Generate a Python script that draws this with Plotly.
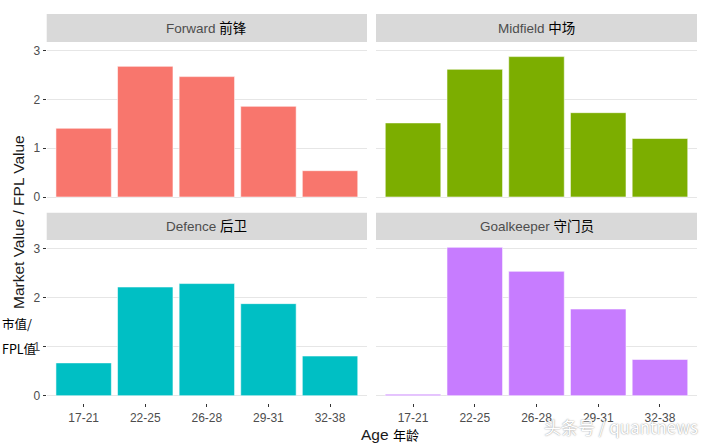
import plotly.graph_objects as go

ages = ["17-21", "22-25", "26-28", "29-31", "32-38"]
forward = [1.41, 2.68, 2.47, 1.86, 0.54]
midfield = [1.52, 2.62, 2.88, 1.73, 1.20]
defence = [0.67, 2.22, 2.29, 1.88, 0.81]
goalkeeper = [0.03, 3.03, 2.54, 1.77, 0.74]
panel_names = ["Forward", "Midfield", "Defence", "Goalkeeper"]
panel_cn = ["前锋", "中场", "后卫", "守门员"]
colors = ["#F8766D", "#7CAE00", "#00BFC4", "#C77CFF"]
yticks = [0, 1, 2, 3]

W, H = 710, 444
def px(v): return v / W
def py(v): return 1 - v / H

FONT = "Liberation Sans, Arial, Noto Sans CJK SC"
CJK = "Noto Sans CJK SC, Liberation Sans"

xdom = [[px(46.7), px(367)], [px(376), px(697)]]
ydom = [[py(204.4), py(42)], [py(403.1), py(240)]]
strips = [[14, 42], [212.7, 240]]

fig = go.Figure()
series = [forward, midfield, defence, goalkeeper]
layout = {}
shapes = []
annotations = []
for i, vals in enumerate(series):
    r, c = divmod(i, 2)
    n = i + 1
    xa = "x" if n == 1 else f"x{n}"
    ya = "y" if n == 1 else f"y{n}"
    fig.add_trace(go.Bar(
        x=ages, y=vals, xaxis=xa, yaxis=ya,
        marker=dict(color=colors[i], line=dict(color="rgba(255,255,255,0.55)", width=1)),
        showlegend=False, hoverinfo="x+y"))
    xk = "xaxis" if n == 1 else f"xaxis{n}"
    yk = "yaxis" if n == 1 else f"yaxis{n}"
    layout[xk] = dict(
        domain=xdom[c], anchor=ya, type="category", range=[-0.6, 4.6],
        showgrid=False, zeroline=False, showline=False,
        ticks="outside" if r == 1 else "", ticklen=3, tickcolor="#333333",
        showticklabels=(r == 1),
        tickfont=dict(family=FONT, size=12, color="#4D4D4D"))
    layout[yk] = dict(
        domain=ydom[r], anchor=xa, range=[-0.1515, 3.18],
        tickvals=yticks, showgrid=True, gridcolor="#E6E6E6", gridwidth=1.3,
        zeroline=False, showline=False,
        ticks="outside" if c == 0 else "", ticklen=3, tickcolor="#333333",
        showticklabels=(c == 0),
        tickfont=dict(family=FONT, size=12, color="#4D4D4D"))
    shapes.append(dict(type="rect", xref="paper", yref="paper",
                       x0=xdom[c][0], x1=xdom[c][1],
                       y0=py(strips[r][1]), y1=py(strips[r][0]),
                       fillcolor="#D9D9D9", line=dict(width=0), layer="below"))
    annotations.append(dict(
        xref="paper", yref="paper",
        x=(xdom[c][0] + xdom[c][1]) / 2, y=py((strips[r][0] + strips[r][1]) / 2),
        text=f"<span style='color:#4D4D4D'>{panel_names[i]}</span> <span style='color:#000000'>{panel_cn[i]}</span>",
        showarrow=False, font=dict(family=FONT, size=13.5), xanchor="center", yanchor="middle"))

annotations.append(dict(xref="paper", yref="paper", x=px(18), y=py(222),
                        text="Market Value / FPL Value", textangle=-90, showarrow=False,
                        font=dict(family=FONT, size=15.5, color="#1A1A1A"),
                        xanchor="center", yanchor="middle"))
annotations.append(dict(xref="paper", yref="paper", x=px(0), y=py(323),
                        text="市值/", showarrow=False,
                        font=dict(family=CJK, size=12.5, color="#000000"),
                        xanchor="left", yanchor="middle"))
annotations.append(dict(xref="paper", yref="paper", x=px(0), y=py(348),
                        text="FPL值", showarrow=False,
                        font=dict(family=CJK, size=12.5, color="#000000"),
                        xanchor="left", yanchor="middle"))
annotations.append(dict(xref="paper", yref="paper", x=px(390), y=py(434),
                        text="<span style='color:#1A1A1A'>Age</span> <span style='font-size:13px;color:#000'>年龄</span>",
                        showarrow=False,
                        font=dict(family=FONT, size=15.5),
                        xanchor="center", yanchor="middle"))
annotations.append(dict(xref="paper", yref="paper", x=px(700), y=py(426),
                        text="头条号 / quantnews", showarrow=False,
                        font=dict(family=CJK, size=17, color="#FFFFFF",
                                  shadow="0px 0px 1.5px #777777"),
                        xanchor="right", yanchor="middle"))

fig.update_layout(width=W, height=H, margin=dict(l=0, r=0, t=0, b=0),
                  paper_bgcolor="white", plot_bgcolor="white",
                  bargap=0.1, shapes=shapes, annotations=annotations, **layout)
fig.write_html("out.html")
